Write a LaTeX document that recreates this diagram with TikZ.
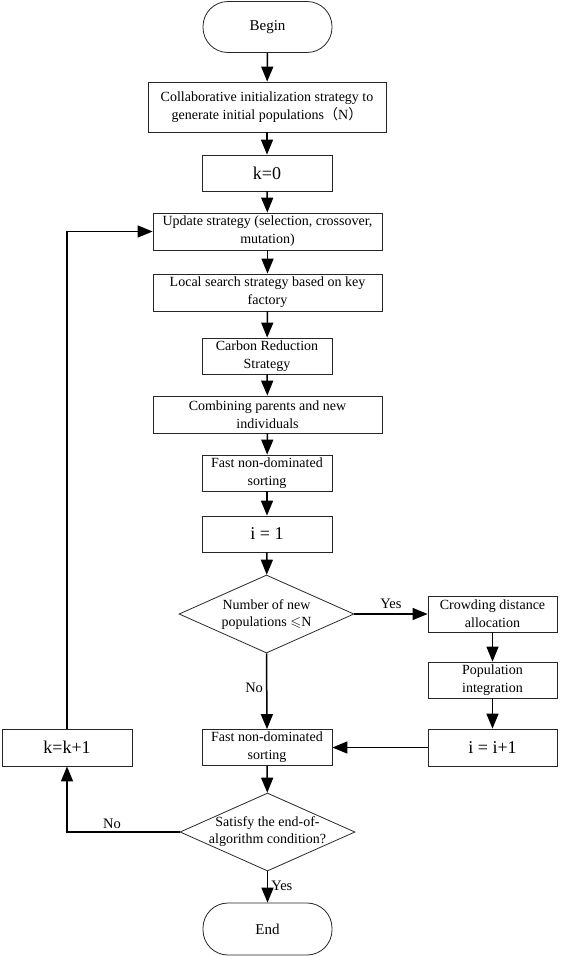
\documentclass[tikz,border=0pt]{standalone}
\usepackage{amssymb}
\usepackage{fontspec}
\setmainfont{Liberation Serif}
\newfontfamily\cjk{Noto Sans CJK SC}
\usetikzlibrary{arrows.meta,shapes.geometric}
\begin{document}
\begin{tikzpicture}[x=1pt,y=-1pt,
  box/.style={draw=black!85,line width=0.8pt,rectangle,inner sep=0pt,align=center,font=\fontsize{14}{18}\selectfont},
  bigtxt/.style={font=\fontsize{18}{20}\selectfont},
  term/.style={draw=black!85,line width=0.8pt,rectangle,rounded corners=25pt,inner sep=0pt,minimum width=129pt,minimum height=51pt,font=\fontsize{15}{18}\selectfont},
  dia/.style={draw=black!85,line width=0.8pt,diamond,inner sep=0pt,minimum width=175pt,minimum height=78pt},
  txt/.style={inner sep=0pt,align=center,font=\fontsize{14}{17}\selectfont},
  lab/.style={inner sep=0pt,font=\fontsize{14.5}{17}\selectfont},
  conn/.style={line width=1.5pt,-{Triangle[length=15pt,width=12pt]}},
  plain/.style={line width=1.5pt}]
\useasboundingbox (0,0) rectangle (560,956);
\node[term] (begin) at (267.5,27) {Begin};
\node[box,minimum width=238pt,minimum height=50pt] (init) at (267,107) {Collaborative initialization strategy to\\generate initial populations{\cjk （}N{\cjk ）}};
\node[box,bigtxt,minimum width=130pt,minimum height=36pt] (k0) at (267,173) {k=0};
\node[box,minimum width=229pt,minimum height=37pt] (upd) at (267.5,231.5) {Update strategy (selection, crossover,\\mutation)};
\node[box,minimum width=229pt,minimum height=37pt] (loc) at (267.5,292.5) {Local search strategy based on key\\factory};
\node[box,minimum width=130pt,minimum height=36pt] (carb) at (267,356) {Carbon Reduction\\Strategy};
\node[box,minimum width=229pt,minimum height=37pt] (comb) at (267.5,414.5) {Combining parents and new\\individuals};
\node[box,minimum width=130pt,minimum height=36pt] (fnds1) at (267,473) {Fast non-dominated\\sorting};
\node[box,bigtxt,minimum width=130pt,minimum height=36pt] (i1) at (267,534) {i = 1};
\node[dia] (d1) at (266.5,614) {};
\node[txt] (d1t) at (266.5,615) {Number of new\\populations $\leqslant$N};
\node[box,minimum width=129pt,minimum height=36pt] (crowd) at (492.5,614) {Crowding distance\\allocation};
\node[box,minimum width=129pt,minimum height=36pt] (popint) at (492.5,680) {Population\\integration};
\node[box,bigtxt,minimum width=129pt,minimum height=37pt] (iinc) at (492.5,747.5) {i = i+1};
\node[box,minimum width=130pt,minimum height=36pt] (fnds2) at (267,747.5) {Fast non-dominated\\sorting};
\node[box,bigtxt,minimum width=130pt,minimum height=37pt] (kinc) at (67,747.5) {k=k+1};
\node[dia] (d2) at (267.5,832) {};
\node[txt] (d2t) at (267.5,832) {Satisfy the end-of-\\algorithm condition?};
\node[term,minimum height=52pt] (end) at (267.5,929) {End};
\draw[conn] (begin) -- (init);
\draw[conn] (init) -- (k0);
\draw[conn] (k0) -- (upd);
\draw[conn] (upd) -- (loc);
\draw[conn] (loc) -- (carb);
\draw[conn] (carb) -- (comb);
\draw[conn] (comb) -- (fnds1);
\draw[conn] (fnds1) -- (i1);
\draw[conn] (i1) -- (d1);
\draw[conn] (d1.east) -- node[lab,above=5pt] (yes1) {Yes} (crowd.west);
\draw[conn] (crowd) -- (popint);
\draw[conn] (popint) -- (iinc);
\draw[conn] (iinc) -- (fnds2);
\draw[conn] (d1.south) -- node[lab,left=3pt,pos=0.45] (no1) {No} (fnds2.north);
\draw[conn] (fnds2) -- (d2);
\draw[conn] (d2.south) -- node[lab,right=3pt,pos=0.45] (yes2) {Yes} (end.north);
\draw[conn] (d2.west) -| node[lab,above=3pt,pos=0.3] (no2) {No} (kinc.south);
\draw[conn] (kinc.north) |- (upd.west);
\end{tikzpicture}
\end{document}
